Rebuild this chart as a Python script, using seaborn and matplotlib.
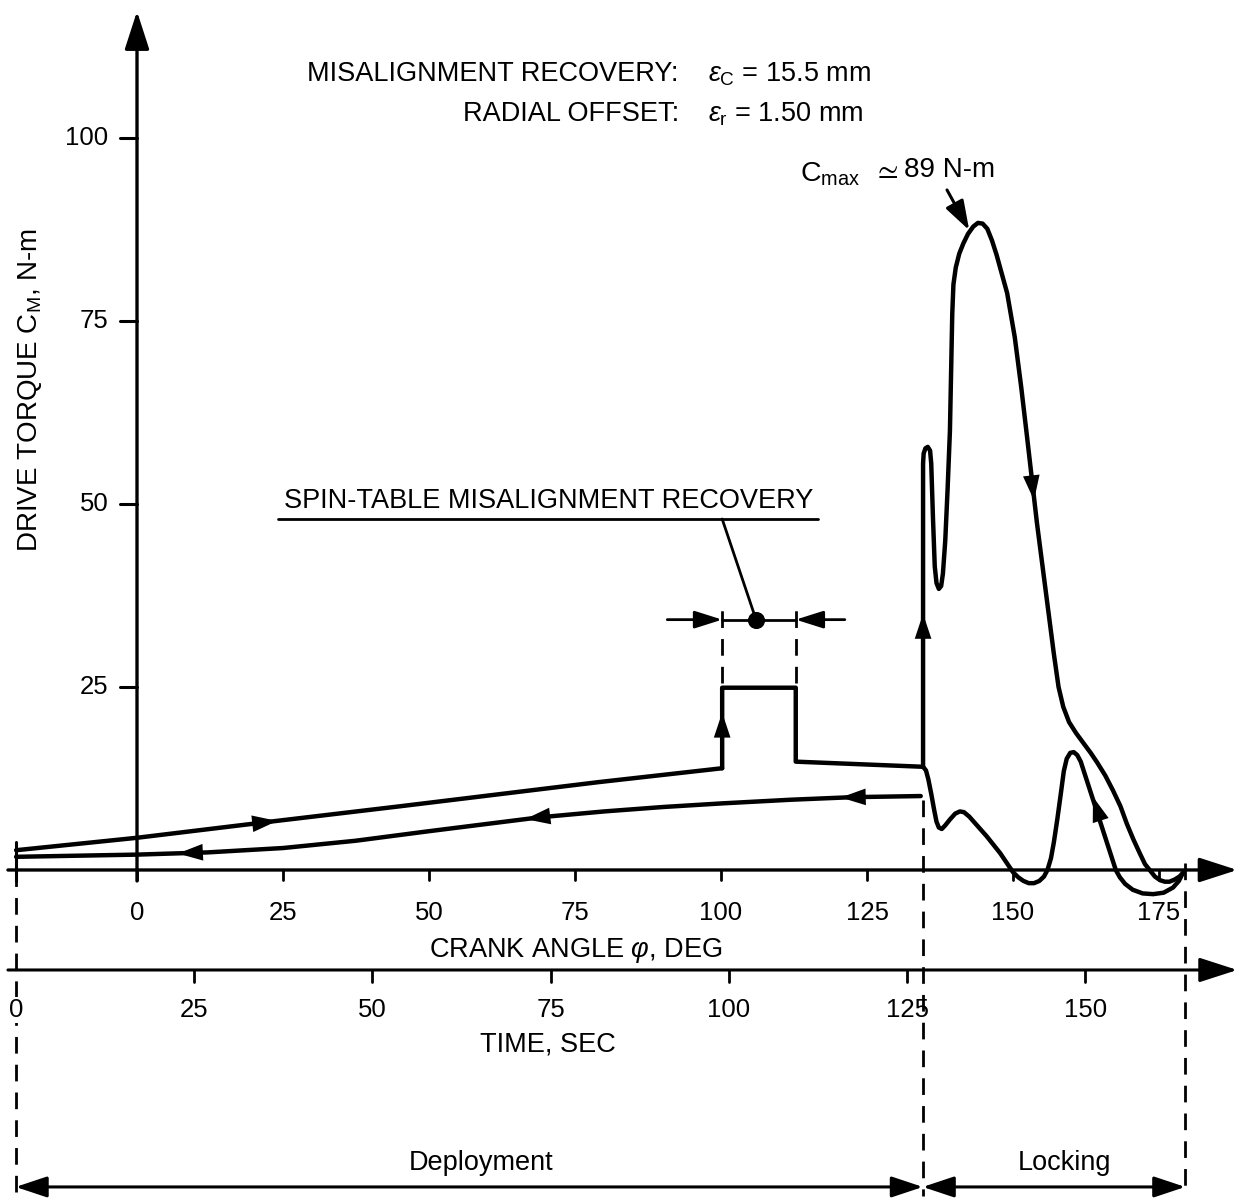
import numpy as np
import pandas as pd
import matplotlib
matplotlib.use("Agg")
import matplotlib.pyplot as plt
import seaborn as sns

# ---------------- data (crank angle deg, drive torque N-m) ----------------
deploy_out_phi = [-20.7, 0.0, 22.8, 45.0, 79.0, 100.2]
deploy_out_c = [2.7, 4.4, 6.6, 8.7, 12.0, 13.9]

step_phi = [100.2, 100.2, 112.8, 112.8, 134.6]
step_c = [13.9, 24.9, 24.9, 14.8, 14.1]

lock_out_phi = [134.6, 134.6, 134.7, 135.0, 135.4, 135.8, 136.0, 136.3, 136.6, 136.9,
                137.3, 137.7, 138.0, 138.4, 138.8, 139.2, 139.4, 139.6, 139.8, 140.2,
                140.8, 141.5, 142.3, 143.2, 144.0, 144.8, 145.6, 146.4, 147.2, 148.1,
                149.0, 150.3, 151.4, 152.4, 154.1, 155.8, 157.0, 157.8, 158.6, 159.6,
                160.8, 162.0, 163.3, 164.4, 165.8, 167.1, 168.4, 169.5, 170.6, 171.7,
                172.6, 173.4, 174.3, 175.2, 176.0, 176.8, 177.7, 178.5, 179.1]
lock_out_c = [14.1, 55.5, 56.9, 57.6, 57.8, 57.3, 55.5, 48.0, 41.5, 39.2,
              38.4, 38.8, 40.5, 45.0, 52.0, 60.0, 68.0, 76.0, 80.0, 82.3,
              84.2, 85.6, 86.9, 87.9, 88.4, 88.3, 87.6, 86.0, 84.0, 81.4,
              78.8, 72.8, 66.0, 59.2, 47.4, 36.9, 29.5, 25.0, 22.3, 20.2,
              18.7, 17.4, 16.0, 14.7, 12.9, 10.9, 8.7, 6.3, 4.2, 2.3,
              0.8, 0.0, -0.9, -1.4, -1.6, -1.6, -1.3, -0.9, -0.4]

lock_ret_phi = [179.1, 178.4, 177.4, 175.8, 174.0, 172.2, 170.5, 169.2, 168.3, 167.6,
                161.6, 161.0, 160.4, 159.8, 159.2, 158.7, 158.2, 157.6, 157.0, 156.5,
                155.9, 155.3, 154.5, 153.6, 152.7, 151.8, 150.9, 150.0, 148.9, 147.8,
                145.5, 143.5, 142.5, 141.6, 140.9, 140.1, 139.2, 138.4, 137.8, 137.3,
                136.9, 136.5, 136.0, 135.5, 135.1, 134.6]
lock_ret_c = [-0.4, -1.5, -2.4, -3.1, -3.3, -3.2, -2.7, -1.9, -1.0, 0.0,
              14.8, 15.7, 16.1, 16.0, 15.2, 13.5, 10.5, 7.0, 3.8, 1.6,
              0.0, -0.9, -1.5, -1.8, -1.8, -1.5, -1.0, -0.3, 1.0, 2.3,
              4.6, 6.4, 7.3, 7.9, 8.0, 7.7, 6.9, 6.1, 5.6, 5.8,
              6.6, 8.2, 10.4, 12.4, 13.6, 14.1]

deploy_ret_phi = [134.2, 122.6, 112.0, 100.2, 90.0, 80.0, 69.0, 50.0, 37.5, 25.0,
                  12.0, 0.0, -20.7]
deploy_ret_c = [10.1, 9.95, 9.6, 9.1, 8.6, 8.0, 7.2, 5.3, 4.0, 3.0,
                2.4, 2.1, 1.8]

crank_ticks = [0, 25, 50, 75, 100, 125, 150, 175]
torque_ticks = [25, 50, 75, 100]
time_ticks = [0, 25, 50, 75, 100, 125, 150]
t_deploy_end = 127.2   # s
t_lock_end = 164.0     # s
c_max = 89
recovery_start, recovery_end = 100.2, 112.8

# time (s) -> crank angle position on the shared horizontal scale
def t2phi(t):
    return -20.77 + 1.2211 * np.asarray(t, dtype=float)

# ---------------- figure ----------------
sns.set_theme(style="white")
plt.rcParams['font.family'] = ['Liberation Sans', 'DejaVu Sans']
plt.rcParams['mathtext.fontset'] = 'custom'
plt.rcParams['mathtext.rm'] = 'Liberation Sans'
plt.rcParams['mathtext.it'] = 'Liberation Sans:italic'
plt.rcParams['mathtext.bf'] = 'Liberation Sans:bold'
plt.rcParams['mathtext.fallback'] = 'stixsans'

fig = plt.figure(figsize=(12.37, 12.01), dpi=100)
ax = fig.add_axes([0, 0, 1, 1])
ax.set_xlim(-23.459, 188.356)
ax.set_ylim(-45.22, 118.85)
ax.axis('off')

K = 'black'
segs = []
for name, px, py in [("a", deploy_out_phi, deploy_out_c), ("b", step_phi, step_c),
                     ("c", lock_out_phi, lock_out_c), ("d", lock_ret_phi, lock_ret_c),
                     ("e", deploy_ret_phi, deploy_ret_c)]:
    segs.append(pd.DataFrame({"phi": px, "torque": py, "seg": name}))
df = pd.concat(segs, ignore_index=True)
sns.lineplot(data=df, x="phi", y="torque", units="seg", estimator=None, sort=False,
             color=K, lw=3.2, ax=ax, legend=False, solid_joinstyle='round',
             solid_capstyle='round')

def arrow(tip, tail, ms=15, hl=1.2, hw=0.4, lw=0.0):
    ax.annotate("", xy=tip, xytext=tail,
                arrowprops=dict(arrowstyle=f"-|>,head_length={hl},head_width={hw}",
                                mutation_scale=ms, color=K, lw=lw,
                                shrinkA=0, shrinkB=0))

# arrows along curve
arrow((24.0, 6.7), (19.0, 6.25))
arrow((7.0, 2.25), (12.0, 2.45))
arrow((66.5, 6.95), (71.5, 7.45))
arrow((120.5, 9.9), (125.5, 10.0))
arrow((recovery_start, 21.5), (recovery_start, 17.0))
arrow((134.6, 35.0), (134.6, 29.0))
arrow((153.6, 50.5), (152.9, 55.6))
arrow((163.7, 10.0), (165.4, 5.8))

# axes lines
head = "-|>,head_length=1.3,head_width=0.42"
ax.annotate("", xy=(0, 117.3), xytext=(0, -1.5),
            arrowprops=dict(arrowstyle=head, mutation_scale=18, color=K, lw=2.4,
                            shrinkA=0, shrinkB=0))
ax.annotate("", xy=(188.4, 0), xytext=(-22.1, 0),
            arrowprops=dict(arrowstyle=head, mutation_scale=18, color=K, lw=2.4,
                            shrinkA=0, shrinkB=0))
ax.annotate("", xy=(188.4, -13.66), xytext=(-22.1, -13.66),
            arrowprops=dict(arrowstyle=head, mutation_scale=18, color=K, lw=2.2,
                            shrinkA=0, shrinkB=0))

fs_tick = 18.5
fs_lab = 19.5
# torque ticks
for v in torque_ticks:
    ax.plot([-2.9, 0], [v, v], color=K, lw=2.2)
    ax.text(-4.9, v, f"{v}", ha='right', va='center', fontsize=fs_tick, color=K)
# crank ticks
for v in crank_ticks:
    ax.plot([v, v], [0, -1.4], color=K, lw=2.0)
    ax.text(v, -5.9, f"{v}", ha='center', va='center', fontsize=fs_tick, color=K)
ax.text(75.2, -11.0, r"CRANK ANGLE $\varphi$, DEG", ha='center', va='center',
        fontsize=fs_lab, color=K)
# time ticks
for t in time_ticks:
    p = float(t2phi(t))
    if t > 0:
        ax.plot([p, p], [-13.66, -15.3], color=K, lw=2.0)
    ax.text(p, -19.1, f"{t}", ha='center', va='center', fontsize=fs_tick, color=K,
            bbox=dict(facecolor='white', edgecolor='none', pad=1.0) if t == 0 else None)
ax.text(70.4, -23.9, "TIME, SEC", ha='center', va='center', fontsize=fs_lab, color=K)

ax.text(-18.3, 65.6, r"DRIVE TORQUE C$_{\rm M}$, N-m", rotation=90, ha='center',
        va='center', fontsize=fs_lab + 0.5, color=K)

# dashed phase boundaries
dash = dict(color=K, lw=2.0, linestyle=(0, (6, 4)))
p0, p1, p2 = float(t2phi(0)), float(t2phi(t_deploy_end)), float(t2phi(t_lock_end))
ax.plot([p0, p0], [3.8, -44.5], **dash, zorder=1)
ax.plot([p1, p1], [9.5, -44.5], **dash, zorder=1)
ax.plot([p2, p2], [1.0, -44.5], **dash, zorder=1)
ax.plot([p0, p0], [3.8, -1.5], color=K, lw=2.2)

# phase dimension arrows
dbl = dict(arrowstyle="<|-|>,head_length=1.2,head_width=0.4", mutation_scale=16,
           color=K, lw=2.2, shrinkA=0, shrinkB=0)
ax.annotate("", xy=(p0, -43.3), xytext=(p1, -43.3), arrowprops=dbl)
ax.annotate("", xy=(p1, -43.3), xytext=(p2, -43.3), arrowprops=dbl)
ax.text((p0 + p1) / 2 + 2.0, -40.0, "Deployment", ha='center', va='center',
        fontsize=fs_lab, color=K)
ax.text((p1 + p2) / 2 + 1.8, -40.0, "Locking", ha='center', va='center',
        fontsize=fs_lab, color=K)

# spin-table misalignment recovery annotation
ax.plot([recovery_start, recovery_start], [25.5, 36.0], **dash)
ax.plot([recovery_end, recovery_end], [25.5, 36.0], **dash)
arrow((recovery_start, 34.2), (90.8, 34.2), ms=14, hl=1.2, hw=0.38, lw=2.0)
arrow((recovery_end, 34.2), (121.2, 34.2), ms=14, hl=1.2, hw=0.38, lw=2.0)
ax.plot([recovery_start, recovery_end], [34.2, 34.2], color=K, lw=2.0)
sns.scatterplot(x=[106.0], y=[34.2], color=K, s=130, ax=ax, legend=False, zorder=5,
                edgecolor=K)
ax.plot([106.0, 100.2], [34.2, 47.95], color=K, lw=2.0)
ax.plot([24.1, 116.6], [47.95, 47.95], color=K, lw=2.0)
ax.text(70.4, 48.6, "SPIN-TABLE MISALIGNMENT RECOVERY", ha='center', va='bottom',
        fontsize=fs_lab, color=K)

# C max
ax.text(113.5, 95.0, r"C$_{\rm max}$", ha='left', va='center', fontsize=fs_lab + 1,
        color=K)
ax.text(126.1, 95.6, r"$\simeq$", ha='left', va='center', fontsize=fs_lab + 2, color=K)
ax.text(131.4, 95.6, f"{c_max} N-m", ha='left', va='center', fontsize=fs_lab + 0.5,
        color=K)
arrow((142.5, 87.4), (138.7, 92.9), ms=15, hl=1.2, hw=0.4, lw=2.2)

# header text
ax.text(92.8, 108.7, "MISALIGNMENT RECOVERY:", ha='right', va='center',
        fontsize=fs_lab, color=K)
ax.text(97.8, 108.7, r"$\varepsilon_{\rm C}$ = 15.5 mm", ha='left', va='center',
        fontsize=fs_lab, color=K)
ax.text(92.8, 103.3, "RADIAL OFFSET:", ha='right', va='center', fontsize=fs_lab,
        color=K)
ax.text(97.8, 103.3, r"$\varepsilon_{\rm r}$ = 1.50 mm", ha='left', va='center',
        fontsize=fs_lab, color=K)

fig.savefig("out.png", dpi=100, facecolor='white')
